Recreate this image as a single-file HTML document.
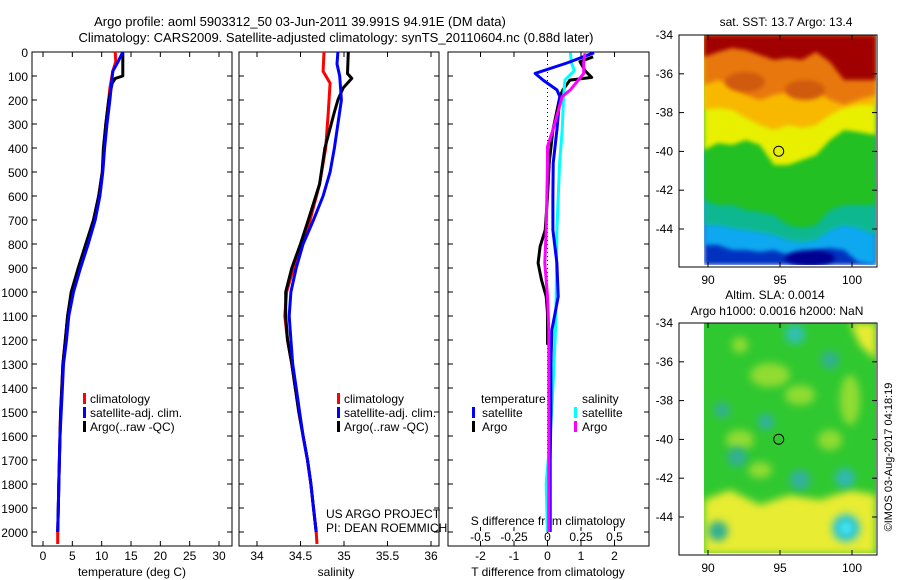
<!DOCTYPE html>
<html><head><meta charset="utf-8">
<style>
html,body{margin:0;padding:0;background:#fff;}
svg{display:block;font-family:"Liberation Sans",sans-serif;}
text{font-size:12px;fill:#000;}
</style></head>
<body>
<svg id="chart" width="900" height="580" viewBox="0 0 900 580" xmlns="http://www.w3.org/2000/svg">
<defs>
<filter id="blur" x="-50%" y="-50%" width="200%" height="200%"><feGaussianBlur stdDeviation="4"/></filter>
<filter id="blur2" x="-50%" y="-50%" width="200%" height="200%"><feGaussianBlur stdDeviation="2"/></filter>
<clipPath id="clipTop"><rect x="704" y="35" width="172" height="230"/></clipPath>
<clipPath id="clipBot"><rect x="704" y="323" width="172" height="230"/></clipPath>
</defs>
<text x="300" y="26" text-anchor="middle" style="font-size:13px">Argo profile: aoml 5903312_50 03-Jun-2011 39.991S 94.91E (DM data)</text>
<text x="336" y="42" text-anchor="middle" style="font-size:13px">Climatology: CARS2009. Satellite-adjusted climatology: synTS_20110604.nc (0.88d later)</text>
<g id="panels"></g>
<g id="maps"></g>
<text transform="translate(892,457) rotate(-90)" text-anchor="middle" style="font-size:11px">©IMOS 03-Aug-2017 04:18:19</text>
</svg>
<script>
// ---- data ----
const depthTicks = [0,100,200,300,400,500,600,700,800,900,1000,1100,1200,1300,1400,1500,1600,1700,1800,1900,2000];
const tempTicks = [0,5,10,15,20,25,30];
const salTicks = [34,34.5,35,35.5,36];
const tDiffTicks = [-2,-1,0,1,2];
const sDiffTicks = [-0.5,-0.25,0,0.25,0.5];
const sDiffTickLabels = ["-0.5","-0.25","0","0.25","0.5"];

const tClimDepth = [0,40,80,150,200,300,400,500,600,700,800,900,1000,1100,1200,1300,1400,1500,1600,1700,1800,1900,2000,2050];
const tClim = [12.3,12.4,11.9,11.4,11.2,10.7,10.4,10.1,9.5,8.6,7.4,6.1,4.9,4.2,3.8,3.4,3.2,3.0,2.9,2.8,2.7,2.6,2.5,2.5];
const tSatDepth = [0,40,80,150,200,300,400,500,600,700,800,900,1000,1100,1200,1300,1400,1500,1600,1700,1800,1900,2000];
const tSat = [13.6,12.8,11.9,11.6,11.4,10.9,10.5,10.2,9.7,8.9,7.7,6.4,5.2,4.4,4.0,3.5,3.3,3.1,2.9,2.8,2.7,2.6,2.5];
const tArgoDepth = [0,100,110,130,200,300,400,500,600,700,800,900,1000,1100,1200,1300,1400,1500,1600,1700,1800,1900,2000];
const tArgo = [13.6,13.6,12.3,11.8,11.2,10.7,10.3,10.1,9.5,8.6,7.3,6.0,4.8,4.2,3.8,3.4,3.2,3.0,2.9,2.8,2.7,2.6,2.5];

const sClimDepth = [0,80,130,250,400,550,700,800,900,1000,1100,1200,1300,1400,1500,1600,1700,1800,1900,2000,2050];
const sClim = [34.77,34.76,34.84,34.82,34.79,34.72,34.61,34.52,34.42,34.34,34.32,34.35,34.40,34.44,34.48,34.53,34.58,34.62,34.65,34.68,34.69];
const sSatDepth = [0,50,100,200,300,400,500,600,700,800,900,1000,1100,1200,1300,1400,1500,1600,1700,1800,1900,2000];
const sSat = [34.93,34.92,34.95,34.97,34.93,34.89,34.84,34.76,34.65,34.53,34.45,34.39,34.37,34.39,34.41,34.45,34.49,34.53,34.58,34.62,34.65,34.68];
const sArgoDepth = [0,90,110,150,200,250,400,550,700,800,900,1000,1100,1200,1300,1400,1500,1600,1700,1800,1900,2000];
const sArgo = [35.05,35.04,35.09,34.99,34.93,34.89,34.78,34.72,34.59,34.50,34.40,34.33,34.33,34.35,34.40,34.44,34.48,34.53,34.58,34.62,34.65,34.68];

const dTSatDepth = [3,46,89,117,158,186,325,463,603,742,879,1019,1158,1300,1500,1700,1900,2000];
const dTSat = [1.39,0.58,-0.37,-0.13,0.28,0.37,0.28,0.17,0.16,0.16,0.28,0.32,0.13,0.1,0.1,0.08,0.08,0.08];
const dTArgoDepth = [20,40,78,106,117,158,186,325,463,603,742,811,879,950,1019,1088,1158,1220];
const dTArgo = [1.36,0.97,1.12,1.32,0.67,0.46,0.37,0.16,0.05,0.0,-0.07,-0.22,-0.28,-0.18,-0.04,0.0,0.0,0.0];
const dSSatDepth = [3,46,78,117,186,325,463,742,1019,1158,1400,1600,1800,2000];
const dSSat = [0.17,0.18,0.2,0.13,0.12,0.11,0.09,0.07,0.065,0.06,0.04,0.02,-0.01,0.0];
const dSArgoDepth = [5,46,89,110,158,186,325,394,463,742,879,1019,1158,1400,1700,2000];
const dSArgo = [0.28,0.27,0.27,0.24,0.17,0.11,0.04,0.0,0.0,-0.01,-0.02,0.0,0.01,0.01,0.01,0.01];

const latTicks = [-34,-36,-38,-40,-42,-44];
const lonTicks = [90,95,100];
const argoLon = 94.91, argoLat = -39.991;

// ---- helpers ----
const NS = "http://www.w3.org/2000/svg";
const svg = document.getElementById('chart');
const panels = document.getElementById('panels');
const maps = document.getElementById('maps');
function mk(tag, attrs, parent) {
  const e = document.createElementNS(NS, tag);
  for (const k in attrs) e.setAttribute(k, attrs[k]);
  (parent || svg).appendChild(e);
  return e;
}
const TOP = 52, BOT = 546;
const yDepth = d => TOP + d * 0.24;
const xTemp = v => 43 + v * 5.867;
const xSal = v => 257 + (v - 34) * 87;
const xTD = v => 547.5 + v * 33.5;
const xSD = v => 547.5 + v * 134;

function frame(x0, x1, name) {
  const r = mk('rect', {x:x0, y:TOP, width:x1-x0, height:BOT-TOP, fill:'none', stroke:'#000', 'stroke-width':1}, panels);
  
  
  depthTicks.forEach(d => {
    mk('line', {x1:x0, x2:x0+5, y1:yDepth(d), y2:yDepth(d), stroke:'#000'}, panels);
    mk('line', {x1:x1-5, x2:x1, y1:yDepth(d), y2:yDepth(d), stroke:'#000'}, panels);
  });
}
function xTicks(ticks, fx, labels, ly, name) {
  ticks.forEach((t, i) => {
    const x = fx(t);
    mk('line', {x1:x, x2:x, y1:TOP, y2:TOP+5, stroke:'#000'}, panels);
    mk('line', {x1:x, x2:x, y1:BOT-5, y2:BOT, stroke:'#000'}, panels);
    const tx = mk('text', {x:x, y:ly, 'text-anchor':'middle'}, panels);
    tx.textContent = labels ? labels[i] : String(t);
    
    
  });
}
function line(depths, vals, fx, color, name, w) {
  const pts = depths.map((d, i) => fx(vals[i]).toFixed(1) + ',' + yDepth(d).toFixed(1)).join(' ');
  const p = mk('polyline', {points:pts, fill:'none', stroke:color, 'stroke-width':w||3, 'stroke-linejoin':'round'}, panels);
  
  
}
function txt(x, y, s, name, parent, anchor) {
  const t = mk('text', {x:x, y:y, 'text-anchor':anchor||'start'}, parent||panels);
  t.textContent = s;
  
  
  return t;
}
function legendMark(x, y, color, name) {
  const r = mk('rect', {x:x, y:y-10, width:3, height:11, fill:color}, panels);
  
  
}

// ---- panel 1: temperature ----
frame(32, 232, 'temperature-axes');
depthTicks.forEach(d => txt(28, yDepth(d)+5, String(d), 'depth-tick-label', panels, 'end'));
xTicks(tempTicks, xTemp, null, 560, 'temperature-tick-label');
txt(132, 576, 'temperature (deg C)', 'temperature-axis-title', panels, 'middle');
line(tClimDepth, tClim, xTemp, '#ff0000', 'temperature-climatology-line');
line(tArgoDepth, tArgo, xTemp, '#000000', 'temperature-argo-line');
line(tSatDepth, tSat, xTemp, '#0000ff', 'temperature-satellite-line');
legendMark(83, 403, '#ff0000', 'legend-climatology-marker');
txt(90, 403, 'climatology', 'legend-climatology');
legendMark(83, 417, '#0000ff', 'legend-satellite-marker');
txt(90, 417, 'satellite-adj. clim.', 'legend-satellite');
legendMark(83, 431, '#000000', 'legend-argo-marker');
txt(90, 431, 'Argo(..raw -QC)', 'legend-argo');

// ---- panel 2: salinity ----
frame(239, 439, 'salinity-axes');
xTicks(salTicks, xSal, null, 560, 'salinity-tick-label');
txt(336, 576, 'salinity', 'salinity-axis-title', panels, 'middle');
line(sClimDepth, sClim, xSal, '#ff0000', 'salinity-climatology-line');
line(sArgoDepth, sArgo, xSal, '#000000', 'salinity-argo-line');
line(sSatDepth, sSat, xSal, '#0000ff', 'salinity-satellite-line');
legendMark(337, 403, '#ff0000', 'legend-climatology-marker');
txt(344, 403, 'climatology', 'legend-climatology');
legendMark(337, 417, '#0000ff', 'legend-satellite-marker');
txt(344, 417, 'satellite-adj. clim.', 'legend-satellite');
legendMark(337, 431, '#000000', 'legend-argo-marker');
txt(344, 431, 'Argo(..raw -QC)', 'legend-argo');
txt(326, 518, 'US ARGO PROJECT', 'project-credit');
txt(326, 532, 'PI: DEAN ROEMMICH', 'pi-credit');

// ---- panel 3: differences ----
frame(448, 649, 'difference-axes');
mk('line', {x1:xTD(0), x2:xTD(0), y1:TOP, y2:BOT, stroke:'#000', 'stroke-dasharray':'1,3'}, panels);
xTicks(tDiffTicks, xTD, null, 560, 'tdiff-tick-label');
sDiffTicks.forEach((t, i) => {
  mk('line', {x1:xSD(t), x2:xSD(t), y1:527, y2:531, stroke:'#000'}, panels);
  txt(xSD(t), 541, sDiffTickLabels[i], 'sdiff-tick-label', panels, 'middle');
});
txt(548, 525, 'S difference from climatology', 'sdiff-axis-title', panels, 'middle');
txt(548, 576, 'T difference from climatology', 'tdiff-axis-title', panels, 'middle');
line(dTArgoDepth, dTArgo, xTD, '#000000', 'tdiff-argo-line');
line(dSSatDepth, dSSat, xSD, '#00ffff', 'sdiff-satellite-line');
line(dTSatDepth, dTSat, xTD, '#0000ff', 'tdiff-satellite-line');
line(dSArgoDepth, dSArgo, xSD, '#ff00ff', 'sdiff-argo-line');
txt(481, 403, 'temperature', 'legend-temperature-heading');
legendMark(472, 417, '#0000ff', 'legend-tsat-marker');
txt(482, 417, 'satellite', 'legend-tsat');
legendMark(472, 431, '#000000', 'legend-targo-marker');
txt(482, 431, 'Argo', 'legend-targo');
txt(582, 403, 'salinity', 'legend-salinity-heading');
legendMark(574, 417, '#00ffff', 'legend-ssat-marker');
txt(582, 417, 'satellite', 'legend-ssat');
legendMark(574, 431, '#ff00ff', 'legend-sargo-marker');
txt(582, 431, 'Argo', 'legend-sargo');

// ---- maps ----
function mapAxes(top, name) {
  const lat = v => top + (-34 - v) * 19.4;
  const lon = v => 708 + (v - 90) * 14.4;
  const r = mk('rect', {x:679, y:top, width:198, height:232, fill:'none', stroke:'#000'}, maps);
  
  
  latTicks.forEach(t => {
    mk('line', {x1:679, x2:684, y1:lat(t), y2:lat(t), stroke:'#000'}, maps);
    mk('line', {x1:872, x2:877, y1:lat(t), y2:lat(t), stroke:'#000'}, maps);
    txt(673, lat(t)+4, String(t), 'latitude-tick-label', maps, 'end');
  });
  lonTicks.forEach(t => {
    mk('line', {x1:lon(t), x2:lon(t), y1:top+227, y2:top+232, stroke:'#000'}, maps);
    mk('line', {x1:lon(t), x2:lon(t), y1:top, y2:top+5, stroke:'#000'}, maps);
    txt(lon(t), top+249, String(t), 'longitude-tick-label', maps, 'middle');
  });
  const c = mk('ellipse', {cx:lon(argoLon), cy:lat(argoLat), rx:5, ry:5, fill:'none', stroke:'#000'}, maps);
  
  
}

// top map: SST bands
const gTop = mk('g', {'clip-path':'url(#clipTop)'}, maps);


const bx = [704,718,732,746,760,774,788,802,816,830,844,858,876];
const bands = [
  ['#0030c0', [265,265,265,265,265,265,265,265,265,265,265,265,265]],
  ['#10a8f0', [245,245,250,250,252,250,255,258,250,248,250,262,265]],
  ['#10b890', [225,225,228,230,232,235,240,242,240,230,225,228,235]],
  ['#20c020', [200,205,205,210,212,215,225,228,225,210,205,205,205]],
  ['#e8f000', [150,143,145,140,145,165,165,160,155,140,130,132,135]],
  ['#f8b800', [110,108,110,118,125,130,125,128,125,115,108,105,105]],
  ['#e87810', [85,80,85,95,100,95,92,95,90,100,105,100,95]],
  ['#a00000', [57,52,48,50,55,60,58,60,52,62,80,80,80]]
];
bands.forEach(b => {
  let pts = '704,35 ';
  b[1].forEach((y, i) => pts += bx[i] + ',' + y + ' ');
  pts += '876,35';
  mk('polygon', {points:pts, fill:b[0], filter:'url(#blur2)'}, gTop);
});
mk('ellipse', {cx:810, cy:258, rx:25, ry:8, fill:'#000090', filter:'url(#blur2)'}, gTop);
mk('ellipse', {cx:745, cy:82, rx:20, ry:10, fill:'#d05a10', filter:'url(#blur2)'}, gTop);
mk('ellipse', {cx:805, cy:90, rx:20, ry:10, fill:'#d05a10', filter:'url(#blur2)'}, gTop);
mk('rect', {x:704, y:35, width:172, height:230, fill:'none'}, gTop);

// bottom map: SLA
const gBot = mk('g', {'clip-path':'url(#clipBot)'}, maps);


mk('rect', {x:704, y:323, width:172, height:231, fill:'#30c830'}, gBot);
mk('polygon', {points:'704,500 730,490 760,505 790,495 820,500 850,490 876,495 876,554 704,554', fill:'#e8ec30', filter:'url(#blur)'}, gBot);
mk('polygon', {points:'850,323 876,323 876,360 860,345', fill:'#e8ec30', filter:'url(#blur)'}, gBot);
[[770,375,20,12],[800,395,15,10],[740,440,14,10],[850,400,10,25],[830,440,12,10],[760,470,12,8]].forEach(b =>
  mk('ellipse', {cx:b[0], cy:b[1], rx:b[2], ry:b[3], fill:'#90dc30', filter:'url(#blur)'}, gBot));
[[795,334,10,'#30c0b0'],[830,360,9,'#30b090'],[722,410,8,'#30b090'],[766,422,8,'#30b0a0'],[737,457,10,'#30b090'],[800,480,10,'#30b0a0'],[845,478,10,'#30b8b0'],[846,528,14,'#30c8d0'],[718,531,10,'#30b090'],[740,345,8,'#90dc30']].forEach(b =>
  mk('circle', {cx:b[0], cy:b[1], r:b[2], fill:b[3], filter:'url(#blur)'}, gBot));
mk('circle', {cx:846, cy:528, r:6, fill:'#40e0f0', filter:'url(#blur2)'}, gBot);

mapAxes(35, 'sst-map-axes');
mapAxes(323, 'sla-map-axes');
txt(786, 26, 'sat. SST: 13.7 Argo: 13.4', 'sst-map-title', maps, 'middle');
txt(775, 299, 'Altim. SLA: 0.0014', 'sla-map-title-1', maps, 'middle');
txt(777, 315, 'Argo h1000: 0.0016 h2000: NaN', 'sla-map-title-2', maps, 'middle');
</script>
</body></html>
